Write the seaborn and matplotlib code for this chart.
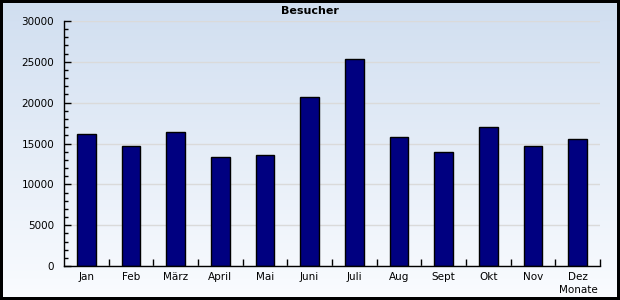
import numpy as np
import pandas as pd
import matplotlib
matplotlib.use("Agg")
import matplotlib.pyplot as plt
from matplotlib.patches import Rectangle
from matplotlib.ticker import MultipleLocator, FixedLocator
import seaborn as sns

months = ["Jan", "Feb", "März", "April", "Mai", "Juni", "Juli", "Aug", "Sept", "Okt", "Nov", "Dez"]
visitors = [16150, 14700, 16400, 13350, 13600, 20700, 25350, 15800, 13950, 17000, 14700, 15550]
title = "Besucher"
x_label = "Monate"

sns.set_theme(style="white")
plt.rcParams['font.family'] = ['DejaVu Sans']

W, H = 620, 300
fig = plt.figure(figsize=(W / 100, H / 100), dpi=100)

# background gradient
bg = fig.add_axes([0, 0, 1, 1], zorder=-10)
top = np.array([208, 222, 240]) / 255.0
bot = np.array([250, 252, 255]) / 255.0
t = np.linspace(0, 1, 256)[:, None]
grad = top[None, :] * (1 - t) + bot[None, :] * t
bg.imshow(grad[:, None, :], aspect="auto", extent=[0, 1, 0, 1], origin="upper")
bg.set_axis_off()

ax = fig.add_axes([64 / W, (H - 266) / H, (600 - 64) / W, (266 - 21) / H])
ax.set_facecolor("none")

df = pd.DataFrame({"Monat": months, "Besucher": visitors})
sns.barplot(data=df, x="Monat", y="Besucher", color="#000080", edgecolor="black",
            linewidth=1.0, width=0.42, saturation=1, ax=ax)

ax.set_xlim(-0.5, len(months) - 0.5)
ax.set_ylim(0, 30000)
ax.yaxis.set_major_locator(MultipleLocator(5000))
ax.yaxis.set_minor_locator(MultipleLocator(1000))
ax.xaxis.set_minor_locator(FixedLocator(np.arange(0.5, len(months), 1)))
ax.tick_params(axis="y", which="major", direction="in", length=5, width=1, color="black",
               labelsize=7.5, pad=7, left=True)
ax.tick_params(axis="y", which="minor", direction="in", length=3, width=1, color="black", left=True)
ax.tick_params(axis="x", which="major", length=0, labelsize=7.5, pad=4)
ax.tick_params(axis="x", which="minor", direction="in", length=5, width=1, color="black", bottom=True)
ax.set_xlabel("")
ax.set_ylabel("")
ax.grid(axis="y", which="major", color="#dadada", linewidth=1)
ax.set_axisbelow(True)
for s in ["top", "right"]:
    ax.spines[s].set_visible(False)
for s in ["left", "bottom"]:
    ax.spines[s].set_color("black")
    ax.spines[s].set_linewidth(1)
for lbl in ax.get_xticklabels() + ax.get_yticklabels():
    lbl.set_color("black")

fig.text(310 / W, 1 - 11 / H, title, ha="center", va="center", fontsize=8, fontweight="bold", color="black")
fig.text(598 / W, 1 - 290 / H, x_label, ha="right", va="center", fontsize=7.5, color="black")

fig.patches.append(Rectangle((0, 0), 1, 1, transform=fig.transFigure, fill=False,
                             edgecolor="black", linewidth=2.9, antialiased=False, zorder=10))

fig.savefig("out.png", dpi=100)
